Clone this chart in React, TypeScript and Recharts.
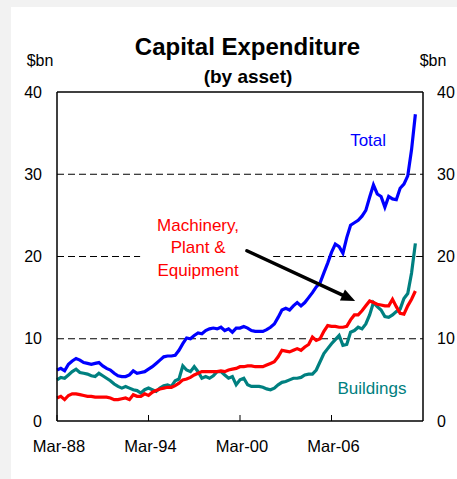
import React from 'react';
import { LineChart, Line, XAxis, YAxis, ReferenceLine, ReferenceDot } from 'recharts';

// Quarterly data, Mar-88 onwards ($bn)
const total = [
  6.2, 6.4, 6.1, 6.9, 7.3, 7.6, 7.4, 7.1, 7.0, 6.9,
  7.0, 7.1, 6.7, 6.4, 6.2, 5.8, 5.5, 5.4, 5.4, 5.6,
  6.1, 5.8, 5.9, 6.0, 6.3, 6.6, 7.0, 7.4, 7.8, 7.9,
  7.9, 8.0, 8.6, 9.4, 10.1, 10.0, 10.4, 10.7, 10.6, 11.0,
  11.2, 11.3, 11.2, 11.4, 11.0, 11.2, 10.8, 11.3, 11.3, 11.5,
  11.3, 11.0, 10.9, 10.9, 10.9, 11.1, 11.4, 11.8, 12.6, 13.5,
  13.7, 13.5, 14.0, 14.4, 14.0, 14.4, 15.0, 15.6, 16.3, 16.8,
  18.0, 19.2, 20.5, 21.5, 21.2, 20.4, 22.3, 23.8, 24.1, 24.4,
  24.9, 25.6, 27.2, 28.7, 27.6, 27.3, 26.0, 27.3, 27.0, 26.9,
  28.3, 28.8, 29.8, 33.0, 37.3,
];

const buildings = [
  5.0, 5.3, 5.2, 5.6, 6.0, 6.3, 5.9, 5.8, 5.7, 5.5,
  5.4, 5.8, 5.5, 5.2, 4.9, 4.5, 4.2, 4.0, 4.2, 4.0,
  3.8, 3.7, 3.4, 3.8, 4.0, 3.8, 3.6, 4.0, 4.3, 4.4,
  4.2, 4.9, 5.1, 6.7, 6.2, 6.0, 6.6, 6.0, 5.2, 5.4,
  5.2, 5.5, 6.0, 6.0, 5.6, 5.2, 5.4, 4.4, 5.0, 5.2,
  4.4, 4.2, 4.2, 4.2, 4.1, 3.9, 3.8, 4.0, 4.4, 4.7,
  4.8, 5.0, 5.2, 5.2, 5.3, 5.6, 5.7, 5.7, 6.2, 7.2,
  8.2, 8.8, 9.4, 9.9, 10.4, 9.2, 9.3, 10.8, 11.0, 11.4,
  11.2, 11.8, 12.9, 14.4, 13.9, 13.5, 12.7, 12.6, 12.9, 13.3,
  13.6, 14.9, 15.5, 18.0, 21.6,
];

const machinery = [
  2.8, 3.0, 2.6, 3.1, 3.3, 3.3, 3.2, 3.1, 3.0, 3.0,
  2.9, 2.9, 2.9, 2.9, 2.8, 2.6, 2.6, 2.7, 2.8, 2.6,
  3.2, 3.0, 3.0, 3.3, 3.1, 3.5, 3.7, 3.9, 4.0, 4.1,
  4.1, 4.3, 4.6, 5.0, 5.1, 5.3, 5.6, 5.8, 6.0, 6.0,
  6.0, 6.0, 6.0, 6.1, 6.0, 6.2, 6.3, 6.4, 6.6, 6.6,
  6.7, 6.7, 6.6, 6.6, 6.6, 6.8, 7.0, 7.2, 7.8, 8.6,
  8.5, 8.4, 8.6, 8.8, 8.6, 9.0, 9.3, 10.2, 9.8, 10.0,
  10.9, 11.6, 11.5, 11.5, 11.4, 11.4, 11.5, 12.3, 12.9, 12.9,
  13.4, 14.0, 14.6, 14.4, 14.2, 14.1, 14.0, 14.0, 14.8, 13.9,
  13.1, 13.0, 14.0, 14.8, 15.8,
];

const xTickIndex = [0, 24, 48, 72];
const xTickLabels = ['Mar-88', 'Mar-94', 'Mar-00', 'Mar-06'];
const yTicks = [0, 10, 20, 30, 40];

const data = total.map((t, i) => ({
  i,
  total: t,
  buildings: buildings[i],
  machinery: machinery[i],
}));

const FONT = '"Liberation Sans", Arial, sans-serif';
const BLUE = '#0000FF';
const RED = '#FF0000';
const TEAL = '#008080';

const XTick = (props: any) => {
  const { x, y, payload } = props;
  const idx = xTickIndex.indexOf(payload.value);
  return (
    <g>
      <line x1={x} x2={x} y1={y} y2={y - 6} stroke="#000" strokeWidth={1} />
      <text x={x + 2} y={y + 31} textAnchor="middle" fontSize={16.5} fontFamily={FONT} fill="#000">
        {idx >= 0 ? xTickLabels[idx] : ''}
      </text>
    </g>
  );
};

const RightTick = (props: any) => {
  const { x, y, payload } = props;
  return (
    <text x={x} y={y} dy="0.355em" textAnchor="start" fontSize={16} fontFamily={FONT} fill="#000">
      {payload.value}
    </text>
  );
};

const Arrow = (props: any) => {
  const { x1, y1, x2, y2 } = props;
  const dx = x2 - x1;
  const dy = y2 - y1;
  const len = Math.sqrt(dx * dx + dy * dy) || 1;
  const ux = dx / len;
  const uy = dy / len;
  const head = 14;
  const hw = 6;
  const bx = x2 - ux * head;
  const by = y2 - uy * head;
  const px = -uy;
  const py = ux;
  return (
    <g>
      <line x1={x1} y1={y1} x2={bx + ux * 2} y2={by + uy * 2} stroke="#000" strokeWidth={3.5} strokeLinecap="round" />
      <polygon
        points={`${x2},${y2} ${bx + px * hw},${by + py * hw} ${bx - px * hw},${by - py * hw}`}
        fill="#000"
      />
    </g>
  );
};

const makeLabel = (lines: string[], color: string) => (props: any) => {
  const { cx, cy } = props;
  const n = lines.length;
  return (
    <g>
      {lines.map((s, k) => (
        <text
          key={k}
          x={cx}
          y={cy + (k - (n - 1) / 2) * 22.5 + 6}
          textAnchor="middle"
          fontSize={17}
          fontFamily={FONT}
          fill={color}
        >
          {s}
        </text>
      ))}
    </g>
  );
};

export default function App() {
  return (
    <div style={{ position: 'absolute', left: 0, top: 0, width: 457, height: 479, background: '#f2f2f2' }}>
      <div style={{ position: 'absolute', left: 11, top: 7, width: 446, height: 472, background: '#ffffff' }} />
      <div style={{ position: 'absolute', left: 0, top: 0 }}>
        <LineChart width={457} height={479} data={data} margin={{ top: 92, right: 0, bottom: 0, left: 0 }}>
          <XAxis
            dataKey="i"
            type="number"
            domain={[0, 96]}
            ticks={xTickIndex}
            tickLine={false}
            tickSize={0}
            tickMargin={0}
            height={58}
            axisLine={{ stroke: '#000', strokeWidth: 1.5 }}
            tick={<XTick />}
            interval={0}
          />
          <YAxis
            yAxisId="left"
            orientation="left"
            domain={[0, 40]}
            ticks={yTicks}
            width={57}
            tickLine={false}
            tickSize={0}
            tickMargin={15}
            axisLine={{ stroke: '#000', strokeWidth: 1.5 }}
            tick={{ fontSize: 16, fill: '#000', fontFamily: FONT }}
            interval={0}
          />
          <YAxis
            yAxisId="right"
            orientation="right"
            domain={[0, 40]}
            ticks={yTicks}
            width={34}
            tickLine={false}
            tickSize={0}
            tickMargin={14}
            axisLine={{ stroke: '#000', strokeWidth: 1.5 }}
            tick={<RightTick />}
            interval={0}
          />
          <ReferenceLine yAxisId="left" y={40} stroke="#000" strokeWidth={1.5} />
          <ReferenceLine yAxisId="left" y={30} stroke="#000" strokeWidth={1} strokeDasharray="7 4" />
          <ReferenceLine yAxisId="left" y={10} stroke="#000" strokeWidth={1} strokeDasharray="7 4" />
          <ReferenceLine
            yAxisId="left"
            segment={[{ x: 0, y: 20 }, { x: 21.8, y: 20 }]}
            stroke="#000"
            strokeWidth={1}
            strokeDasharray="7 4"
          />
          <ReferenceLine
            yAxisId="left"
            segment={[{ x: 56.7, y: 20 }, { x: 96, y: 20 }]}
            stroke="#000"
            strokeWidth={1}
            strokeDasharray="7 4"
          />
          <Line yAxisId="right" type="linear" dataKey="total" stroke="none" strokeWidth={0} dot={false} isAnimationActive={false} legendType="none" />
          <Line yAxisId="left" type="linear" dataKey="total" stroke={BLUE} strokeWidth={3.2} dot={false} isAnimationActive={false} />
          <Line yAxisId="left" type="linear" dataKey="buildings" stroke={TEAL} strokeWidth={3.2} dot={false} isAnimationActive={false} />
          <Line yAxisId="left" type="linear" dataKey="machinery" stroke={RED} strokeWidth={3.2} dot={false} isAnimationActive={false} />
          <ReferenceLine
            yAxisId="left"
            segment={[{ x: 49.8, y: 20.7 }, { x: 78.2, y: 14.6 }]}
            shape={(p: any) => <Arrow {...p} />}
          />
          <ReferenceDot yAxisId="left" x={81.6} y={34.2} r={0} ifOverflow="visible" shape={makeLabel(['Total'], BLUE)} />
          <ReferenceDot
            yAxisId="left"
            x={37.0}
            y={21.1}
            r={0}
            ifOverflow="visible"
            shape={makeLabel(['Machinery,', 'Plant &', 'Equipment'], RED)}
          />
          <ReferenceDot yAxisId="left" x={82.6} y={4.0} r={0} ifOverflow="visible" shape={makeLabel(['Buildings'], TEAL)} />
        </LineChart>
      </div>
      <svg width={457} height={479} style={{ position: 'absolute', left: 0, top: 0, pointerEvents: 'none' }}>
        <text x={247.5} y={55} textAnchor="middle" fontSize={24} fontWeight="bold" fontFamily={FONT} fill="#000">
          Capital Expenditure
        </text>
        <text x={248} y={83} textAnchor="middle" fontSize={19} fontWeight="bold" fontFamily={FONT} fill="#000">
          (by asset)
        </text>
        <text x={40} y={66} textAnchor="middle" fontSize={16} fontFamily={FONT} fill="#000">
          $bn
        </text>
        <text x={433} y={66} textAnchor="middle" fontSize={16} fontFamily={FONT} fill="#000">
          $bn
        </text>
      </svg>
    </div>
  );
}
